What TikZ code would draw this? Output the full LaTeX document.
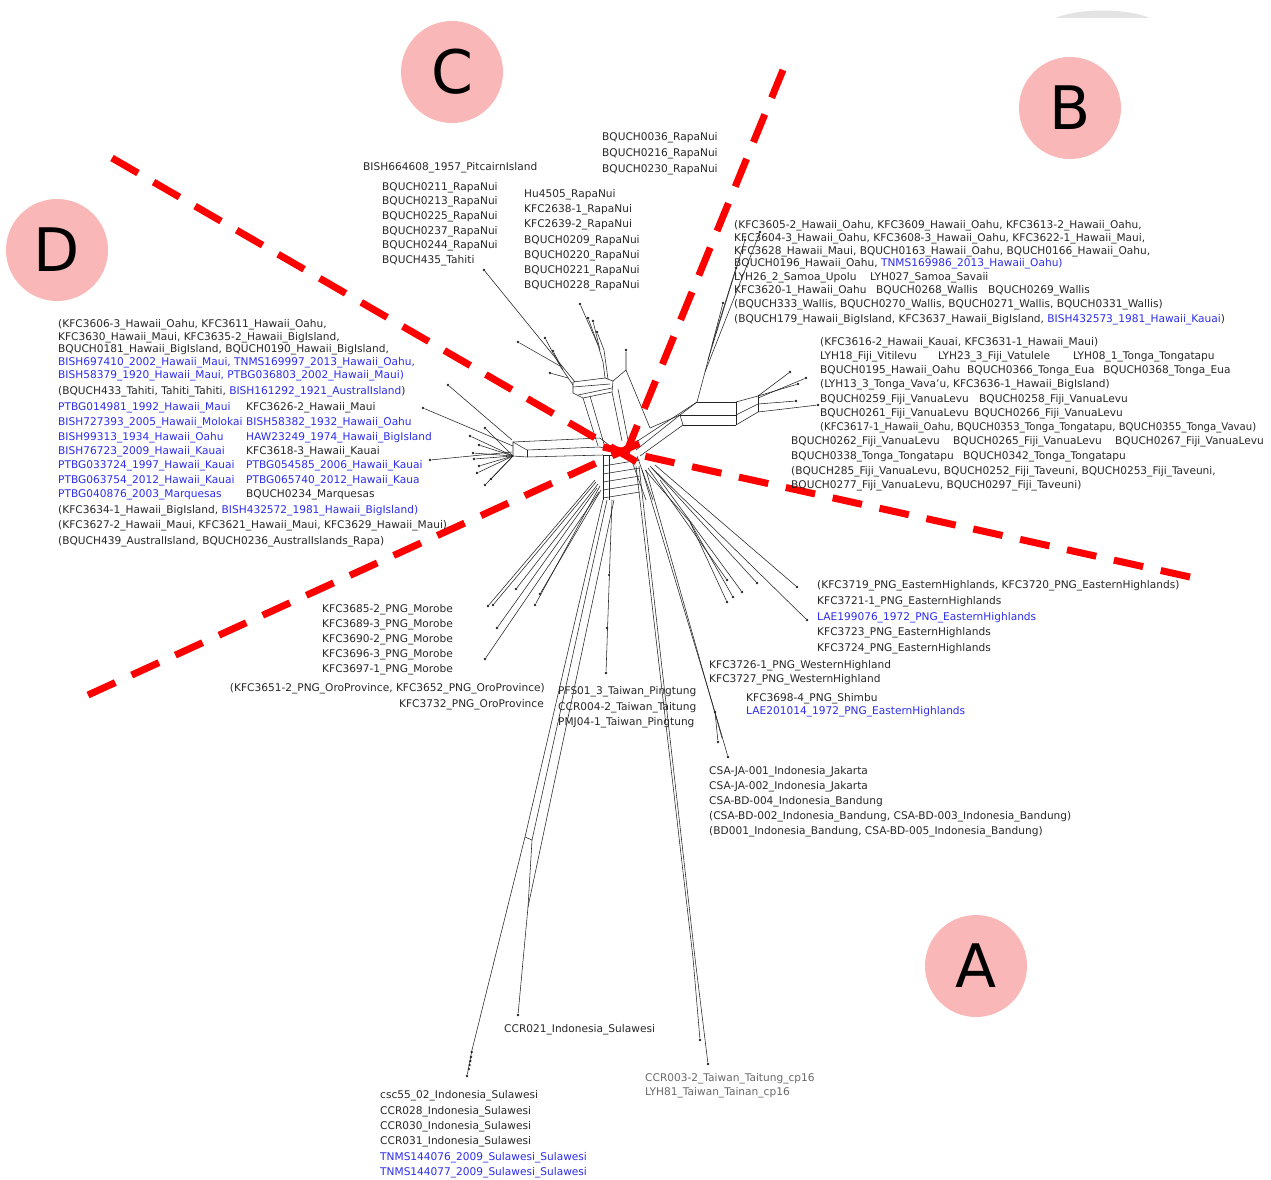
\documentclass[tikz,border=0pt]{standalone}
\usepackage{graphicx}
\usepackage{fontspec}
\setmainfont{DejaVu Sans}
\definecolor{blu}{RGB}{45,45,235}
\definecolor{txt}{RGB}{40,40,40}
\definecolor{gtxt}{RGB}{105,105,105}
\definecolor{pinkc}{RGB}{250,183,183}
\definecolor{netc}{RGB}{35,35,35}
\newcommand\labfont{\fontsize{10.6}{13}\selectfont}
\newcommand\Bl[1]{\textcolor{blu}{#1}}
\begin{document}
\begin{tikzpicture}[x=1pt,y=-1pt,
  lab/.style={anchor=base west,inner sep=0pt,font=\labfont,text=txt},
  labe/.style={anchor=base east,inner sep=0pt,font=\labfont,text=txt},
  blab/.style={lab,text=blu},
  glab/.style={lab,text=gtxt},
  letter/.style={circle,fill=pinkc,minimum size=102pt,inner sep=0pt,font=\fontsize{60}{60}\selectfont,text=black},
  redray/.style={draw=red,line width=7pt,dash pattern=on 30pt off 18pt},
  edge/.style={draw=netc,line width=0.55pt},
  tip/.style={circle,fill=netc,inner sep=0pt,minimum size=2.8pt}]
\useasboundingbox (0,0) rectangle (1271,1180);
\fill[white] (0,0) rectangle (1271,1180);
\fill[gray!22] (1055,18) .. controls (1080,8) and (1125,8) .. (1150,18) -- cycle;

% ---------------- letters
\node[letter] (C) at (452,72) {C};
\node[letter] (Bc) at (1070,108) {B};
\node[letter] (Dc) at (57,250) {D};
\node[letter] (Ac) at (976,966) {A};

% ---------------- tips (endpoints)
\foreach \n/\p in {e1/{(580,304)},e2/{(588,318)},e3/{(593,321)},e4/{(597,332)},e5/{(626,350)},
  e6/{(518,342)},e7/{(545,338)},e8/{(553,351)},e9/{(550,373)},e10/{(484,270)},
  e11/{(798,384)},e12/{(796,401)},e13/{(818,405)},e14/{(790,372)},e15/{(806,378)},
  e17/{(723,303)},e18/{(745,240)},e19/{(760,232)},e20/{(736,268)},
  e21/{(473,453)},e22/{(474,459)},e23/{(477,473)},e24/{(485,485)},e25/{(485,428)},e26/{(470,436)},
  e27/{(479,445)},e28/{(491,479)},e29/{(479,466)},e30/{(448,385)},e31/{(423,408)},e32/{(430,460)},
  e33/{(488,606)},e34/{(493,605)},e35/{(516,589)},e36/{(535,605)},e37/{(540,594)},e38/{(497,628)},e39/{(485,659)},
  e40/{(606,673)},e41/{(518,1015)},e42/{(467,1076)},e43/{(700,1040)},e44/{(708,1064)},
  e45/{(718,742)},e46/{(728,757)},e48/{(727,602)},e49/{(733,597)},e50/{(727,580)},
  e51/{(757,583)},e52/{(797,587)},e53/{(807,620)},e54/{(742,592)}}
  {\node[tip] (\n) at \p {};}

% ---------------- hubs
\coordinate (c0) at (612,452);
\coordinate (tb) at (598,345);
\coordinate (tr) at (626,370);
\coordinate (tl) at (560,366);
\coordinate (lf) at (513,456);
\coordinate (s1) at (525,837);
\coordinate (s2) at (532,840);
\coordinate (s3) at (528,907);
\coordinate (s4) at (472,1050);
\coordinate (t1) at (693,958);
\coordinate (t2) at (695,958);
\coordinate (j1) at (715,712);
\coordinate (f1) at (690,522);
\coordinate (ra) at (758,396);
\coordinate (rb) at (758,412);

% ---------------- top cluster
\draw[edge] (598,446)--(583,398);
\draw[edge] (604,444)--(590,396);
\draw[edge] (622,441)--(612,392);
\draw[edge] (628,440)--(618,389);
\draw[edge] (573,382)--(605,378)--(613,381)--(612,392)--(583,398)--(573,393)--cycle;
\draw[edge] (573,387)--(610,384);
\draw[edge] (578,395)--(612,388);
\draw[edge] (605,378)--(603,362)--(tb);
\draw[edge] (608,379)--(604,350)--(e4);
\draw[edge] (tb)--(e1);
\draw[edge] (tb)--(e2);
\draw[edge] (600,350)--(e3);
\draw[edge] (613,381)--(tr)--(e5);
\draw[edge] (tr)--(650,428);
\draw[edge] (573,385)--(tl)--(e6);
\draw[edge] (tl)--(e7);
\draw[edge] (563,370)--(e8);
\draw[edge] (568,378)--(e9);
\draw[edge] (575,382)--(e10);

% ---------------- right cluster
\draw[edge] (630,446)--(697,402);
\draw[edge] (636,450)--(680,415);
\draw[edge] (640,456)--(683,425);
\draw[edge] (650,428)--(680,415);
\draw[edge] (697,402)--(736,402);
\draw[edge] (680,415)--(736,415);
\draw[edge] (683,425)--(736,425);
\draw[edge] (697,402)--(680,415)--(683,425);
\draw[edge] (736,402)--(736,425);
\draw[edge] (736,402)--(ra);
\draw[edge] (736,415)--(758,404);
\draw[edge] (736,425)--(rb);
\draw[edge] (ra)--(rb);
\draw[edge] (ra)--(e11);
\draw[edge] (ra)--(e14);
\draw[edge] (758,398)--(e15);
\draw[edge] (758,404)--(e12);
\draw[edge] (rb)--(e13);
\draw[edge] (697,402)--(705,372)--(712,345)--(e17);
\draw[edge] (712,345)--(e20);
\draw[edge] (705,372)--(e19);
\draw[edge] (708,360)--(e18);

% ---------------- left cluster
\draw[edge] (600,438)--(513,442)--(lf)--(527,457)--(603,455);
\draw[edge] (513,442)--(527,450)--(600,447);
\draw[edge] (527,450)--(527,457);
\draw[edge] (600,438)--(610,446);
\draw[edge] (600,447)--(611,450);
\draw[edge] (603,455)--(612,455);
\foreach \e in {e21,e22,e23,e24,e25,e26,e27,e28,e29} \draw[edge] (lf)--(\e);
\draw[edge] (e30)--(512,440);
\draw[edge] (e31)--(513,446);
\draw[edge] (e32)--(512,452);

% ---------------- ladder under the centre
\draw[edge] (603,456)--(603,500);
\draw[edge] (609,456)--(609,500);
\foreach \y in {466,474,482,490,498} \draw[edge] (603,\y)--(640,\y-6);
\draw[edge] (630,456)--(646,500);
\draw[edge] (637,456)--(653,500);

% ---------------- lower-left fan
\draw[edge] (595,480)--(e33);
\draw[edge] (596,482)--(e34);
\draw[edge] (598,484)--(e35);
\draw[edge] (600,486)--(e36);
\draw[edge] (601,490)--(e37);
\draw[edge] (597,488)--(e38);
\draw[edge] (599,492)--(e39);

% ---------------- Taiwan Pingtung
\draw[edge] (612,500)--(e40);
\fill[netc] (607,628) circle (1.3pt);
\fill[netc] (609,575) circle (1.1pt);

% ---------------- Sulawesi
\draw[edge] (603,500)--(s1)--(s4);
\draw[edge] (607,500)--(s2)--(s3);
\draw[edge] (614,500)--(s3)--(e41);
\draw[edge] (s1)--(s2);
\draw[edge] (s4)--(e42);
\foreach \y/\x in {1052/471.7,1057/471,1061/470.3,1065/469.6,1069/468.9}
  \fill[netc] (\x,\y) circle (1.3pt);

% ---------------- Taiwan cp16
\draw[edge] (636,466)--(t1)--(e43);
\draw[edge] (639,466)--(t2)--(e44);

% ---------------- Jakarta / Bandung
\draw[edge] (642,470)--(j1)--(e45);
\draw[edge] (j1)--(e46);
\draw[edge] (646,470)--(722,738);
\fill[netc] (j1) circle (1.3pt);

% ---------------- lower-right fan
\draw[edge] (645,470)--(f1);
\draw[edge] (f1)--(e48);
\draw[edge] (f1)--(e49);
\draw[edge] (648,468)--(e50);
\draw[edge] (650,466)--(e51);
\draw[edge] (655,465)--(e52);
\draw[edge] (652,468)--(e53);
\draw[edge] (660,480)--(e54);

% ---------------- red dashed rays
\coordinate (rUL) at (112,158);
\coordinate (rUR) at (783,70);
\coordinate (rLR) at (1190,577);
\coordinate (rLL) at (88,695);
\coordinate (xUL) at (642,465);
\coordinate (xUR) at (624,458);
\coordinate (xLR) at (603,447);
\coordinate (xLL) at (640,443);
\draw[redray] (rUL)--(xUL);
\draw[redray] (rUR)--(xUR);
\draw[redray] (rLR)--(xLR);
\draw[redray] (rLL)--(xLL);

% ---------------- labels: top centre
\node[lab] (r1) at (602,141) {BQUCH0036\_RapaNui};
\node[lab] (r2) at (602,156) {BQUCH0216\_RapaNui};
\node[lab] (r3) at (602,172) {BQUCH0230\_RapaNui};
\node[lab] (pit) at (363,170) {BISH664608\_1957\_PitcairnIsland};
\node[lab] (l1) at (382,190) {BQUCH0211\_RapaNui};
\node[lab] (l2) at (382,204) {BQUCH0213\_RapaNui};
\node[lab] (l3) at (382,219) {BQUCH0225\_RapaNui};
\node[lab] (l4) at (382,234) {BQUCH0237\_RapaNui};
\node[lab] (l5) at (382,248) {BQUCH0244\_RapaNui};
\node[lab] (l6) at (382,263) {BQUCH435\_Tahiti};
\node[lab] (m1) at (524,197) {Hu4505\_RapaNui};
\node[lab] (m2) at (524,212) {KFC2638-1\_RapaNui};
\node[lab] (m3) at (524,227) {KFC2639-2\_RapaNui};
\node[lab] (m4) at (524,243) {BQUCH0209\_RapaNui};
\node[lab] (m5) at (524,258) {BQUCH0220\_RapaNui};
\node[lab] (m6) at (524,273) {BQUCH0221\_RapaNui};
\node[lab] (m7) at (524,288) {BQUCH0228\_RapaNui};

% ---------------- labels: top right
\node[lab] (b1) at (734,228) {(KFC3605-2\_Hawaii\_Oahu, KFC3609\_Hawaii\_Oahu, KFC3613-2\_Hawaii\_Oahu,};
\node[lab] (b2) at (734,241) {KFC3604-3\_Hawaii\_Oahu, KFC3608-3\_Hawaii\_Oahu, KFC3622-1\_Hawaii\_Maui,};
\node[lab] (b3) at (734,254) {KFC3628\_Hawaii\_Maui, BQUCH0163\_Hawaii\_Oahu, BQUCH0166\_Hawaii\_Oahu,};
\node[lab] (b4) at (734,266) {BQUCH0196\_Hawaii\_Oahu, \Bl{TNMS169986\_2013\_Hawaii\_Oahu)}};
\node[lab] (b5) at (734,280) {LYH26\_2\_Samoa\_Upolu};
\node[lab] (b5b) at (870,280) {LYH027\_Samoa\_Savaii};
\node[lab] (b6) at (734,293) {KFC3620-1\_Hawaii\_Oahu};
\node[lab] (b6b) at (876,293) {BQUCH0268\_Wallis};
\node[lab] (b6c) at (988,293) {BQUCH0269\_Wallis};
\node[lab] (b7) at (734,307) {(BQUCH333\_Wallis, BQUCH0270\_Wallis, BQUCH0271\_Wallis, BQUCH0331\_Wallis)};
\node[lab] (b8) at (734,322) {(BQUCH179\_Hawaii\_BigIsland, KFC3637\_Hawaii\_BigIsland, \Bl{BISH432573\_1981\_Hawaii\_Kauai})};

% ---------------- labels: right
\node[lab] (f1a) at (820,345) {(KFC3616-2\_Hawaii\_Kauai, KFC3631-1\_Hawaii\_Maui)};
\node[lab] (f2a) at (820,359) {LYH18\_Fiji\_Vitilevu};
\node[lab] (f2b) at (938,359) {LYH23\_3\_Fiji\_Vatulele};
\node[lab] (f2c) at (1073,359) {LYH08\_1\_Tonga\_Tongatapu};
\node[lab] (f3a) at (820,373) {BQUCH0195\_Hawaii\_Oahu};
\node[lab] (f3b) at (967,373) {BQUCH0366\_Tonga\_Eua};
\node[lab] (f3c) at (1103,373) {BQUCH0368\_Tonga\_Eua};
\node[lab] (f4a) at (820,387) {(LYH13\_3\_Tonga\_Vava'u, KFC3636-1\_Hawaii\_BigIsland)};
\node[lab] (f5a) at (820,402) {BQUCH0259\_Fiji\_VanuaLevu};
\node[lab] (f5b) at (979,402) {BQUCH0258\_Fiji\_VanuaLevu};
\node[lab] (f6a) at (820,416) {BQUCH0261\_Fiji\_VanuaLevu};
\node[lab] (f6b) at (974,416) {BQUCH0266\_Fiji\_VanuaLevu};
\node[lab] (f7a) at (820,430) {\scalebox{0.955}[1]{(KFC3617-1\_Hawaii\_Oahu, BQUCH0353\_Tonga\_Tongatapu, BQUCH0355\_Tonga\_Vavau)}};
\node[lab] (f8a) at (791,444) {BQUCH0262\_Fiji\_VanuaLevu};
\node[lab] (f8b) at (953,444) {BQUCH0265\_Fiji\_VanuaLevu};
\node[lab] (f8c) at (1115,444) {BQUCH0267\_Fiji\_VanuaLevu};
\node[lab] (f9a) at (791,459) {BQUCH0338\_Tonga\_Tongatapu};
\node[lab] (f9b) at (963,459) {BQUCH0342\_Tonga\_Tongatapu};
\node[lab] (f10) at (791,474) {(BQUCH285\_Fiji\_VanuaLevu, BQUCH0252\_Fiji\_Taveuni, BQUCH0253\_Fiji\_Taveuni,};
\node[lab] (f11) at (791,488) {BQUCH0277\_Fiji\_VanuaLevu, BQUCH0297\_Fiji\_Taveuni)};

% ---------------- labels: left
\node[lab] (d1) at (58,327) {(KFC3606-3\_Hawaii\_Oahu, KFC3611\_Hawaii\_Oahu,};
\node[lab] (d2) at (58,340) {KFC3630\_Hawaii\_Maui, KFC3635-2\_Hawaii\_BigIsland,};
\node[lab] (d3) at (58,352) {BQUCH0181\_Hawaii\_BigIsland, BQUCH0190\_Hawaii\_BigIsland,};
\node[blab] (d4) at (58,365) {BISH697410\_2002\_Hawaii\_Maui, TNMS169997\_2013\_Hawaii\_Oahu,};
\node[blab] (d5) at (58,378) {BISH58379\_1920\_Hawaii\_Maui, PTBG036803\_2002\_Hawaii\_Maui)};
\node[lab] (d6) at (58,394) {(BQUCH433\_Tahiti, Tahiti\_Tahiti, \Bl{BISH161292\_1921\_AustralIsland})};
\node[blab] (g1) at (58,410) {PTBG014981\_1992\_Hawaii\_Maui};
\node[blab] (g2) at (58,425) {BISH727393\_2005\_Hawaii\_Molokai};
\node[blab] (g3) at (58,440) {BISH99313\_1934\_Hawaii\_Oahu};
\node[blab] (g4) at (58,454) {BISH76723\_2009\_Hawaii\_Kauai};
\node[blab] (g5) at (58,468) {PTBG033724\_1997\_Hawaii\_Kauai};
\node[blab] (g6) at (58,483) {PTBG063754\_2012\_Hawaii\_Kauai};
\node[blab] (g7) at (58,497) {PTBG040876\_2003\_Marquesas};
\node[lab] (h1) at (246,410) {KFC3626-2\_Hawaii\_Maui};
\node[blab] (h2) at (246,425) {BISH58382\_1932\_Hawaii\_Oahu};
\node[blab] (h3) at (246,440) {HAW23249\_1974\_Hawaii\_BigIsland};
\node[lab] (h4) at (246,454) {KFC3618-3\_Hawaii\_Kauai};
\node[blab] (h5) at (246,468) {PTBG054585\_2006\_Hawaii\_Kauai};
\node[blab] (h6) at (246,483) {PTBG065740\_2012\_Hawaii\_Kaua};
\node[lab] (h7) at (246,497) {BQUCH0234\_Marquesas};
\node[lab] (d7) at (58,513) {(KFC3634-1\_Hawaii\_BigIsland, \Bl{BISH432572\_1981\_Hawaii\_BigIsland)}};
\node[lab] (d8) at (58,528) {(KFC3627-2\_Hawaii\_Maui, KFC3621\_Hawaii\_Maui, KFC3629\_Hawaii\_Maui)};
\node[lab] (d9) at (58,544) {(BQUCH439\_AustralIsland, BQUCH0236\_AustralIslands\_Rapa)};

% ---------------- labels: lower left
\node[lab] (p1) at (322,612) {KFC3685-2\_PNG\_Morobe};
\node[lab] (p2) at (322,627) {KFC3689-3\_PNG\_Morobe};
\node[lab] (p3) at (322,642) {KFC3690-2\_PNG\_Morobe};
\node[lab] (p4) at (322,657) {KFC3696-3\_PNG\_Morobe};
\node[lab] (p5) at (322,672) {KFC3697-1\_PNG\_Morobe};
\node[labe] (o1) at (545,691) {(KFC3651-2\_PNG\_OroProvince, KFC3652\_PNG\_OroProvince)};
\node[labe] (o2) at (544,707) {KFC3732\_PNG\_OroProvince};
\node[lab] (w1) at (558,694) {PFS01\_3\_Taiwan\_Pingtung};
\node[lab] (w2) at (558,710) {CCR004-2\_Taiwan\_Taitung};
\node[lab] (w3) at (558,725) {PMJ04-1\_Taiwan\_Pingtung};

% ---------------- labels: lower right
\node[lab] (k1) at (817,588) {(KFC3719\_PNG\_EasternHighlands, KFC3720\_PNG\_EasternHighlands)};
\node[lab] (k2) at (817,604) {KFC3721-1\_PNG\_EasternHighlands};
\node[blab] (k3) at (817,620) {LAE199076\_1972\_PNG\_EasternHighlands};
\node[lab] (k4) at (817,635) {KFC3723\_PNG\_EasternHighlands};
\node[lab] (k5) at (817,651) {KFC3724\_PNG\_EasternHighlands};
\node[lab] (k6) at (709,668) {KFC3726-1\_PNG\_WesternHighland};
\node[lab] (k7) at (709,682) {KFC3727\_PNG\_WesternHighland};
\node[lab] (k8) at (746,701) {KFC3698-4\_PNG\_Shimbu};
\node[blab] (k9) at (746,714) {LAE201014\_1972\_PNG\_EasternHighlands};
\node[lab] (q1) at (709,774) {CSA-JA-001\_Indonesia\_Jakarta};
\node[lab] (q2) at (709,789) {CSA-JA-002\_Indonesia\_Jakarta};
\node[lab] (q3) at (709,804) {CSA-BD-004\_Indonesia\_Bandung};
\node[lab] (q4) at (709,819) {(CSA-BD-002\_Indonesia\_Bandung, CSA-BD-003\_Indonesia\_Bandung)};
\node[lab] (q5) at (709,834) {(BD001\_Indonesia\_Bandung, CSA-BD-005\_Indonesia\_Bandung)};

% ---------------- labels: bottom
\node[lab] (u0) at (504,1032) {CCR021\_Indonesia\_Sulawesi};
\node[lab] (u1) at (380,1098) {csc55\_02\_Indonesia\_Sulawesi};
\node[lab] (u2) at (380,1114) {CCR028\_Indonesia\_Sulawesi};
\node[lab] (u3) at (380,1129) {CCR030\_Indonesia\_Sulawesi};
\node[lab] (u4) at (380,1144) {CCR031\_Indonesia\_Sulawesi};
\node[blab] (u5) at (380,1160) {TNMS144076\_2009\_Sulawesi\_Sulawesi};
\node[blab] (u6) at (380,1175) {TNMS144077\_2009\_Sulawesi\_Sulawesi};
\node[glab] (v1) at (645,1081) {CCR003-2\_Taiwan\_Taitung\_cp16};
\node[glab] (v2) at (645,1095) {LYH81\_Taiwan\_Tainan\_cp16};
\end{tikzpicture}
\end{document}
